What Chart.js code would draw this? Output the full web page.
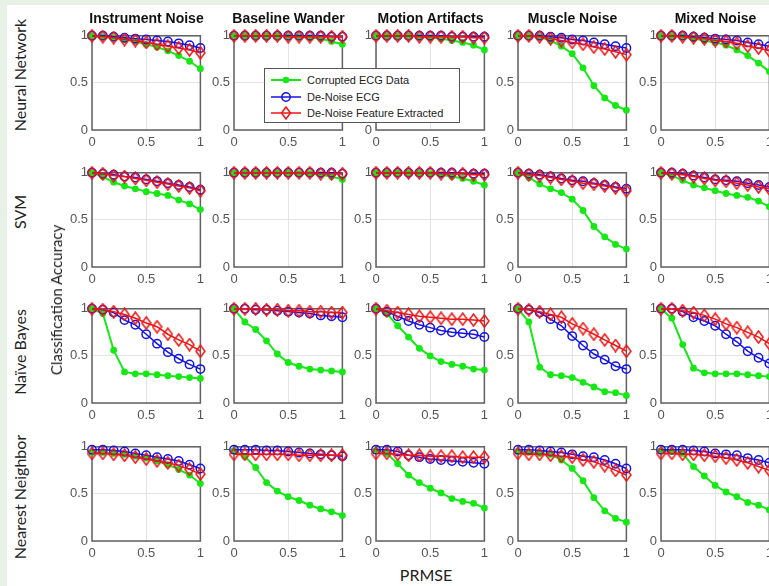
<!DOCTYPE html>
<html>
<head>
<meta charset="utf-8">
<script src="https://cdn.jsdelivr.net/npm/chart.js@4.4.0/dist/chart.umd.min.js"></script>
<style>
  html, body { margin: 0; padding: 0; }
  body { width: 769px; height: 586px; overflow: hidden; background: #e8f1e6; position: relative; font-family: 'Liberation Sans', Arial, sans-serif; }
  #sheet { position: absolute; left: 7px; top: 5px; right: 0; bottom: 0; background: #fff; }
  canvas.panel { position: absolute; }
  .title { position: absolute; font: bold 14px 'Liberation Sans', Arial, sans-serif; color: #111; transform: translateX(-50%); white-space: nowrap; }
  .vlabel { position: absolute; font: 16px Lato, sans-serif; color: #222; white-space: nowrap; transform: translate(-50%, -50%) rotate(-90deg); }
  #xlabel { position: absolute; left: 426px; top: 565px; transform: translateX(-50%); font: 16px Lato, sans-serif; color: #222; }
  #legend { position: absolute; z-index: 10; left: 264px; top: 68px; width: 194px; height: 53px; background: #fff; border: 1px solid #555; font: 11px 'Liberation Sans', Arial, sans-serif; color: #222; }
  #legend .item { position: absolute; left: 4px; height: 16px; display: flex; align-items: center; }
  #legend svg { margin-right: 4px; }
</style>
</head>
<body>
<div id="sheet"></div>
<div id="legend"></div>
<div id="xlabel">PRMSE</div>
<script>
const prmse = [0, 0.1, 0.2, 0.3, 0.4, 0.5, 0.6, 0.7, 0.8, 0.9, 1];
const noiseTypes = ['Instrument Noise', 'Baseline Wander', 'Motion Artifacts', 'Muscle Noise', 'Mixed Noise'];
const classifiers = ['Neural Network', 'SVM', 'Naïve Bayes', 'Nearest Neighbor'];
const seriesNames = ['Corrupted ECG Data', 'De-Noise ECG', 'De-Noise Feature Extracted'];
const axisTicks = [0, 0.5, 1];

// one row per noise type (Instrument, Baseline, Motion, Muscle, Mixed)
const nnCorrupted = [
  [1, 0.99, 0.98, 0.96, 0.94, 0.91, 0.88, 0.84, 0.79, 0.73, 0.65],
  [1, 1, 1, 1, 1, 0.99, 0.99, 0.98, 0.97, 0.94, 0.91],
  [1, 1, 1, 1, 0.99, 0.98, 0.97, 0.95, 0.93, 0.90, 0.85],
  [1, 1, 0.99, 0.95, 0.89, 0.81, 0.66, 0.47, 0.34, 0.26, 0.21],
  [1, 1, 0.99, 0.97, 0.95, 0.93, 0.90, 0.85, 0.79, 0.71, 0.62]
];
const nnDenoise = [
  [1, 1, 0.99, 0.98, 0.97, 0.96, 0.95, 0.94, 0.92, 0.90, 0.87],
  [1, 1, 1, 1, 1, 1, 1, 1, 1, 0.99, 0.99],
  [1, 1, 1, 1, 1, 1, 1, 0.99, 0.99, 0.99, 0.99],
  [1, 1, 1, 0.99, 0.98, 0.96, 0.95, 0.93, 0.91, 0.89, 0.87],
  [1, 1, 1, 0.99, 0.98, 0.97, 0.96, 0.95, 0.93, 0.91, 0.89]
];
const nnFeature = [
  [1, 0.99, 0.98, 0.96, 0.95, 0.93, 0.91, 0.89, 0.87, 0.85, 0.82],
  [1, 1, 1, 1, 1, 0.99, 0.99, 0.99, 0.99, 0.99, 0.99],
  [1, 1, 1, 1, 0.99, 0.99, 0.99, 0.99, 0.99, 0.98, 0.98],
  [1, 1, 0.99, 0.97, 0.95, 0.93, 0.91, 0.88, 0.86, 0.83, 0.80],
  [1, 1, 0.99, 0.98, 0.97, 0.95, 0.94, 0.92, 0.89, 0.87, 0.84]
];

const svmCorrupted = [
  [1, 0.96, 0.90, 0.86, 0.83, 0.80, 0.78, 0.76, 0.71, 0.67, 0.61],
  [1, 1, 1, 1, 1, 1, 0.99, 0.99, 0.98, 0.96, 0.93],
  [1, 1, 1, 1, 1, 0.99, 0.98, 0.96, 0.94, 0.91, 0.87],
  [1, 0.95, 0.88, 0.83, 0.79, 0.72, 0.60, 0.43, 0.32, 0.24, 0.19],
  [1, 0.97, 0.92, 0.87, 0.84, 0.81, 0.78, 0.76, 0.74, 0.70, 0.64]
];
const svmDenoise = [
  [1, 0.99, 0.98, 0.96, 0.95, 0.93, 0.91, 0.89, 0.87, 0.85, 0.82],
  [1, 1, 1, 1, 1, 1, 1, 1, 1, 1, 0.99],
  [1, 1, 1, 1, 1, 1, 1, 1, 0.99, 0.99, 0.99],
  [1, 0.99, 0.98, 0.96, 0.94, 0.92, 0.91, 0.89, 0.87, 0.85, 0.83],
  [1, 1, 0.99, 0.97, 0.95, 0.93, 0.92, 0.91, 0.89, 0.87, 0.85]
];
const svmFeature = [
  [1, 0.99, 0.97, 0.96, 0.94, 0.92, 0.90, 0.88, 0.86, 0.84, 0.81],
  [1, 1, 1, 1, 1, 1, 1, 1, 0.99, 0.99, 0.99],
  [1, 1, 1, 1, 1, 1, 0.99, 0.99, 0.99, 0.98, 0.98],
  [1, 0.98, 0.97, 0.95, 0.93, 0.91, 0.89, 0.88, 0.86, 0.84, 0.81],
  [1, 0.99, 0.98, 0.96, 0.94, 0.92, 0.91, 0.89, 0.87, 0.85, 0.83]
];

const nbCorrupted = [
  [1, 0.95, 0.56, 0.33, 0.31, 0.31, 0.30, 0.29, 0.28, 0.27, 0.26],
  [1, 0.86, 0.78, 0.66, 0.52, 0.43, 0.39, 0.36, 0.35, 0.34, 0.33],
  [1, 0.95, 0.82, 0.70, 0.58, 0.50, 0.44, 0.41, 0.39, 0.36, 0.35],
  [1, 0.86, 0.38, 0.30, 0.29, 0.27, 0.22, 0.17, 0.12, 0.11, 0.08],
  [1, 0.90, 0.62, 0.37, 0.32, 0.31, 0.31, 0.31, 0.30, 0.29, 0.28]
];
const nbDenoise = [
  [1, 0.99, 0.96, 0.88, 0.83, 0.73, 0.63, 0.54, 0.47, 0.41, 0.36],
  [1, 1, 0.99, 0.99, 0.98, 0.97, 0.96, 0.95, 0.93, 0.92, 0.91],
  [1, 0.97, 0.92, 0.87, 0.83, 0.80, 0.77, 0.75, 0.74, 0.73, 0.70],
  [1, 0.99, 0.96, 0.89, 0.82, 0.71, 0.61, 0.52, 0.46, 0.39, 0.36],
  [1, 1, 0.97, 0.91, 0.87, 0.82, 0.73, 0.65, 0.55, 0.48, 0.42]
];
const nbFeature = [
  [1, 0.99, 0.97, 0.94, 0.90, 0.85, 0.81, 0.73, 0.67, 0.62, 0.55],
  [1, 1, 1, 0.99, 0.99, 0.98, 0.98, 0.97, 0.97, 0.96, 0.96],
  [1, 0.98, 0.96, 0.94, 0.92, 0.91, 0.90, 0.89, 0.89, 0.88, 0.87],
  [1, 0.99, 0.97, 0.94, 0.91, 0.84, 0.79, 0.73, 0.67, 0.61, 0.55],
  [1, 1, 0.98, 0.96, 0.93, 0.89, 0.84, 0.80, 0.75, 0.70, 0.63]
];

const knnCorrupted = [
  [0.94, 0.94, 0.93, 0.92, 0.90, 0.88, 0.85, 0.81, 0.76, 0.70, 0.61],
  [0.96, 0.90, 0.78, 0.62, 0.53, 0.47, 0.43, 0.38, 0.34, 0.31, 0.27],
  [0.96, 0.93, 0.82, 0.70, 0.62, 0.56, 0.51, 0.45, 0.42, 0.40, 0.35],
  [0.95, 0.94, 0.93, 0.92, 0.86, 0.77, 0.64, 0.46, 0.32, 0.24, 0.20],
  [0.96, 0.95, 0.93, 0.79, 0.69, 0.59, 0.52, 0.47, 0.41, 0.38, 0.33]
];
const knnDenoise = [
  [0.97, 0.97, 0.96, 0.95, 0.93, 0.91, 0.89, 0.87, 0.85, 0.81, 0.77],
  [0.97, 0.97, 0.97, 0.96, 0.96, 0.95, 0.94, 0.93, 0.92, 0.91, 0.90],
  [0.97, 0.97, 0.95, 0.91, 0.89, 0.87, 0.86, 0.85, 0.84, 0.83, 0.82],
  [0.97, 0.97, 0.96, 0.95, 0.94, 0.92, 0.90, 0.89, 0.86, 0.82, 0.77],
  [0.97, 0.97, 0.97, 0.96, 0.95, 0.93, 0.92, 0.91, 0.88, 0.86, 0.83]
];
const knnFeature = [
  [0.93, 0.93, 0.92, 0.91, 0.89, 0.87, 0.85, 0.83, 0.80, 0.76, 0.71],
  [0.92, 0.92, 0.92, 0.92, 0.92, 0.92, 0.91, 0.91, 0.91, 0.91, 0.91],
  [0.93, 0.93, 0.92, 0.91, 0.91, 0.90, 0.90, 0.90, 0.89, 0.89, 0.89],
  [0.93, 0.92, 0.92, 0.91, 0.90, 0.89, 0.86, 0.84, 0.80, 0.75, 0.70],
  [0.93, 0.93, 0.92, 0.92, 0.91, 0.90, 0.88, 0.86, 0.83, 0.79, 0.75]
];

const rowSeries = [
  [nnCorrupted, nnDenoise, nnFeature],
  [svmCorrupted, svmDenoise, svmFeature],
  [nbCorrupted, nbDenoise, nbFeature],
  [knnCorrupted, knnDenoise, knnFeature]
];

const GREEN = '#16e816';
const BLUE  = '#1212e6';
const RED   = '#ee1414';

// plot-area geometry (in page pixels)
const colLeft  = [92, 234, 376, 518, 661];
const rowTop   = [32, 169, 305, 443];
const plotW = 109, plotH = 98;
const padL = 30, padT = 8, padR = 8, padB = 24;
const rowLabelY = [75, 212, 352, 497];

// tall hollow diamond like the MATLAB marker
function diamond() {
  const c = document.createElement('canvas');
  c.width = 11; c.height = 14;
  const g = c.getContext('2d');
  g.strokeStyle = RED; g.lineWidth = 1.5;
  g.beginPath();
  g.moveTo(5.5, 1); g.lineTo(10, 7); g.lineTo(5.5, 13); g.lineTo(1, 7); g.closePath();
  g.stroke();
  return c;
}
const diamondImg = diamond();

const boxPlugin = {
  id: 'box',
  beforeDatasetsDraw(chart) {
    const a = chart.chartArea, ctx = chart.ctx;
    ctx.save();
    ctx.strokeStyle = '#606060';
    ctx.lineWidth = 1.5;
    ctx.strokeRect(a.left, a.top, a.right - a.left, a.bottom - a.top);
    ctx.restore();
  }
};

const tickFont = { family: "'Liberation Sans', Arial, sans-serif", size: 13 };

function makePanel(r, c) {
  const cv = document.createElement('canvas');
  cv.className = 'panel';
  const w = plotW + padL + padR, h = plotH + padT + padB;
  cv.width = w; cv.height = h;
  cv.style.left = (colLeft[c] - padL) + 'px';
  cv.style.top = (rowTop[r] - padT) + 'px';
  document.body.appendChild(cv);

  const [corr, den, feat] = rowSeries[r];
  const pts = arr => prmse.map((x, i) => ({ x, y: arr[c][i] }));

  new Chart(cv, {
    type: 'line',
    data: {
      datasets: [
        { label: seriesNames[0], data: pts(corr), order: 3, borderColor: GREEN, backgroundColor: GREEN,
          borderWidth: 2, pointStyle: 'circle', pointRadius: 3.4, pointBackgroundColor: GREEN, pointBorderWidth: 0 },
        { label: seriesNames[1], data: pts(den), order: 2, borderColor: BLUE, backgroundColor: 'rgba(0,0,0,0)',
          borderWidth: 1.5, pointStyle: 'circle', pointRadius: 4.2, pointBorderWidth: 1.5 },
        { label: seriesNames[2], data: pts(feat), order: 1, borderColor: RED, backgroundColor: 'rgba(0,0,0,0)',
          borderWidth: 1.5, pointStyle: diamondImg, pointRadius: 5 }
      ]
    },
    options: {
      responsive: false,
      animation: false,
      devicePixelRatio: 1,
      layout: { padding: { left: 0, top: padT, right: padR, bottom: 0 } },
      plugins: { legend: { display: false }, tooltip: { enabled: false } },
      datasets: { line: { clip: false, tension: 0 } },
      scales: {
        x: {
          type: 'linear', min: 0, max: 1,
          afterFit: s => { s.height = padB; },
          afterBuildTicks: s => { s.ticks = axisTicks.map(v => ({ value: v })); },
          grid: { color: '#e4e4e4', drawTicks: false },
          border: { display: false },
          ticks: { font: tickFont, color: '#555', padding: 5, maxRotation: 0, callback: v => String(v) }
        },
        y: {
          type: 'linear', min: 0, max: 1,
          afterFit: s => { s.width = padL; },
          afterBuildTicks: s => { s.ticks = axisTicks.map(v => ({ value: v })); },
          grid: { color: '#e4e4e4', drawTicks: false },
          border: { display: false },
          ticks: { font: tickFont, color: '#555', padding: 4, callback: v => String(v) }
        }
      }
    },
    plugins: [boxPlugin]
  });
}

for (let r = 0; r < classifiers.length; r++) {
  for (let c = 0; c < noiseTypes.length; c++) makePanel(r, c);
}

noiseTypes.forEach((t, c) => {
  const d = document.createElement('div');
  d.className = 'title';
  d.textContent = t;
  d.style.left = (colLeft[c] + plotW / 2) + 'px';
  d.style.top = '10px';
  document.body.appendChild(d);
});

classifiers.forEach((t, r) => {
  const d = document.createElement('div');
  d.className = 'vlabel';
  d.textContent = t;
  d.style.left = '19px';
  d.style.top = rowLabelY[r] + 'px';
  document.body.appendChild(d);
});

const yTitle = document.createElement('div');
yTitle.className = 'vlabel';
yTitle.textContent = 'Classification Accuracy';
yTitle.style.left = '56px';
yTitle.style.top = '300px';
yTitle.style.fontSize = '15px';
document.body.appendChild(yTitle);

// legend samples
const legendMarks = [
  `<line x1="2" y1="8" x2="32" y2="8" stroke="${GREEN}" stroke-width="2"/><circle cx="17" cy="8" r="3.3" fill="${GREEN}"/>`,
  `<line x1="2" y1="8" x2="32" y2="8" stroke="${BLUE}" stroke-width="1.5"/><circle cx="17" cy="8" r="4.2" fill="none" stroke="${BLUE}" stroke-width="1.5"/>`,
  `<line x1="2" y1="8" x2="32" y2="8" stroke="${RED}" stroke-width="1.5"/><path d="M17 2 L21.5 8 L17 14 L12.5 8 Z" fill="none" stroke="${RED}" stroke-width="1.5"/>`
];
const legend = document.getElementById('legend');
seriesNames.forEach((name, i) => {
  const it = document.createElement('div');
  it.className = 'item';
  it.style.top = (3 + i * 16.5) + 'px';
  it.innerHTML = `<svg width="34" height="16">${legendMarks[i]}</svg><span>${name}</span>`;
  legend.appendChild(it);
});
</script>
</body>
</html>
